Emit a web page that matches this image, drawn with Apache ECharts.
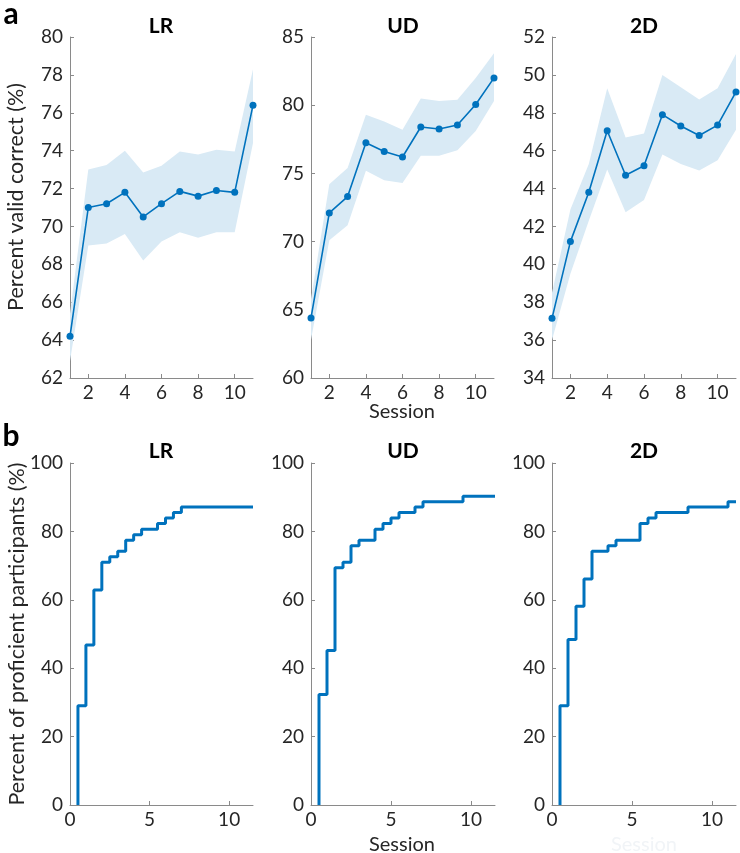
<!DOCTYPE html>
<html>
<head>
  <meta charset="utf-8">
  <title>Session performance</title>
  <script src="https://cdn.jsdelivr.net/npm/echarts@6.0.0/dist/echarts.min.js"></script>
  <style>
    html, body { margin: 0; padding: 0; background: #fff; }
    #main { width: 740px; height: 853px; }
  </style>
</head>
<body>
  <div id="main"></div>
  <script>
  // sessions 1..11, panel a
  var sessions = ['1', '2', '3', '4', '5', '6', '7', '8', '9', '10', '11'];

  var lrMean  = [64.2, 71.0, 71.2, 71.8, 70.5, 71.2, 71.85, 71.6, 71.9, 71.8, 76.4];
  var lrUpper = [65.4, 73.0, 73.25, 74.0, 72.85, 73.2, 73.95, 73.8, 74.05, 73.95, 78.3];
  var lrLower = [62.9, 69.0, 69.1, 69.6, 68.2, 69.2, 69.7, 69.4, 69.7, 69.7, 74.4];

  var udMean  = [64.4, 72.1, 73.3, 77.25, 76.6, 76.2, 78.4, 78.25, 78.55, 80.05, 82.0];
  var udUpper = [65.8, 74.2, 75.4, 79.3, 78.8, 78.2, 80.5, 80.3, 80.4, 82.0, 83.8];
  var udLower = [62.8, 70.1, 71.2, 75.2, 74.5, 74.3, 76.3, 76.3, 76.7, 78.1, 80.3];

  var twoMean  = [37.15, 41.2, 43.8, 47.05, 44.7, 45.2, 47.9, 47.3, 46.8, 47.35, 49.1];
  var twoUpper = [38.5, 42.9, 45.3, 49.3, 46.7, 46.9, 50.0, 49.35, 48.7, 49.3, 51.1];
  var twoLower = [36.0, 39.5, 42.3, 45.0, 42.75, 43.4, 45.8, 45.3, 44.95, 45.5, 47.1];

  // panel b: session where the step happens, and the new percentage
  var lrStepX = [0.5, 1, 1.5, 2, 2.5, 3, 3.5, 4, 4.5, 5.5, 6, 6.5, 7];
  var lrStepY = [29.0, 46.8, 62.9, 71.0, 72.6, 74.2, 77.4, 79.0, 80.6, 82.3, 83.9, 85.5, 87.1];

  var udStepX = [0.5, 1, 1.5, 2, 2.5, 3, 4, 4.5, 5, 5.5, 6.5, 7, 9.5];
  var udStepY = [32.3, 45.2, 69.4, 71.0, 75.8, 77.4, 80.6, 82.3, 83.9, 85.5, 87.1, 88.7, 90.3];

  var twoStepX = [0.5, 1, 1.5, 2, 2.5, 3.5, 4, 5.5, 6, 6.5, 8.5, 11];
  var twoStepY = [29.0, 48.4, 58.1, 66.1, 74.2, 75.8, 77.4, 82.3, 83.9, 85.5, 87.1, 88.7];

  var bottomTicks = [0, 5, 10];
  var stepEnd = 11.5;

  var blue = '#0072BD';
  var band = '#d9eaf5';
  var axisGrey = '#8a8a8a';
  var textCol = '#262626';
  var font = 'Lato';

  var chart = echarts.init(document.getElementById('main'), null, {renderer: 'canvas'});

  var grids = [
    {left: 70,  top: 37,  width: 183, height: 341},
    {left: 311, top: 37,  width: 183, height: 341},
    {left: 552, top: 37,  width: 184, height: 341},
    {left: 70,  top: 463, width: 183, height: 342},
    {left: 311, top: 463, width: 184, height: 342},
    {left: 552, top: 463, width: 184, height: 342}
  ];

  // only even sessions get a tick and a label
  function evenOnly(idx) { return idx % 2 === 1; }

  function catAx(i) {
    return {
      type: 'category', gridIndex: i, data: sessions, boundaryGap: false,
      axisLine: {lineStyle: {color: axisGrey, width: 1}},
      axisTick: {inside: true, length: 4, interval: evenOnly, lineStyle: {color: axisGrey}},
      axisLabel: {interval: evenOnly, color: textCol, fontSize: 19, fontFamily: font, margin: 5},
      splitLine: {show: false}
    };
  }
  function xAx(i, min, max, ticks) {
    return {
      type: 'value', gridIndex: i, min: min, max: max,
      axisLine: {lineStyle: {color: axisGrey, width: 1}},
      axisTick: {inside: true, length: 4, customValues: ticks, lineStyle: {color: axisGrey}},
      axisLabel: {customValues: ticks, color: textCol, fontSize: 19, fontFamily: font, margin: 5},
      splitLine: {show: false}
    };
  }
  function yAx(i, min, max, step) {
    return {
      type: 'value', gridIndex: i, min: min, max: max, interval: step,
      axisLine: {show: true, lineStyle: {color: axisGrey, width: 1}},
      axisTick: {show: true, inside: true, length: 4, lineStyle: {color: axisGrey}},
      axisLabel: {color: textCol, fontSize: 19, fontFamily: font, margin: 7},
      splitLine: {show: false}
    };
  }

  function pairs(xs, ys) {
    return xs.map(function (x, k) { return [x, ys[k]]; });
  }

  function meanPanel(i, mean, lower, upper) {
    var width = upper.map(function (u, k) { return +(u - lower[k]).toFixed(3); });
    var stack = 'band' + i;
    return [
      {
        type: 'line', xAxisIndex: i, yAxisIndex: i, stack: stack, silent: true,
        data: lower, symbol: 'none', lineStyle: {opacity: 0}, z: 1
      },
      {
        type: 'line', xAxisIndex: i, yAxisIndex: i, stack: stack, silent: true,
        data: width, symbol: 'none', lineStyle: {opacity: 0},
        areaStyle: {color: band, opacity: 1}, z: 1
      },
      {
        type: 'line', xAxisIndex: i, yAxisIndex: i, data: mean,
        symbol: 'circle', symbolSize: 7, itemStyle: {color: blue},
        lineStyle: {color: blue, width: 1.6}, z: 3
      }
    ];
  }

  function stepPanel(i, xs, ys) {
    var data = [[xs[0], 0]].concat(pairs(xs, ys));
    data.push([stepEnd, ys[ys.length - 1]]);
    return {
      type: 'line', xAxisIndex: i, yAxisIndex: i, step: 'end', data: data,
      symbol: 'none', lineStyle: {color: blue, width: 3}, z: 3
    };
  }

  function txt(x, y, s, size, weight, rot, color) {
    return {
      type: 'text', x: x, y: y, rotation: rot || 0,
      style: {
        text: s, fontSize: size, fontWeight: weight || 'normal', fontFamily: font,
        fill: color || textCol, align: 'center', verticalAlign: 'middle'
      }
    };
  }

  var series = []
    .concat(meanPanel(0, lrMean, lrLower, lrUpper))
    .concat(meanPanel(1, udMean, udLower, udUpper))
    .concat(meanPanel(2, twoMean, twoLower, twoUpper));
  series.push(stepPanel(3, lrStepX, lrStepY));
  series.push(stepPanel(4, udStepX, udStepY));
  series.push(stepPanel(5, twoStepX, twoStepY));

  var option = {
    animation: false,
    backgroundColor: '#fff',
    grid: grids,
    xAxis: [
      catAx(0), catAx(1), catAx(2),
      xAx(3, 0, stepEnd, bottomTicks), xAx(4, 0, stepEnd, bottomTicks), xAx(5, 0, stepEnd, bottomTicks)
    ],
    yAxis: [
      yAx(0, 62, 80, 2), yAx(1, 60, 85, 5), yAx(2, 34, 52, 2),
      yAx(3, 0, 100, 20), yAx(4, 0, 100, 20), yAx(5, 0, 100, 20)
    ],
    series: series,
    graphic: [
      txt(11, 14, 'a', 30, 'bold', 0, '#000'),
      txt(11, 436, 'b', 30, 'bold', 0, '#000'),
      txt(161, 26, 'LR', 21, 'bold', 0, '#000'),
      txt(403, 26, 'UD', 21, 'bold', 0, '#000'),
      txt(644, 26, '2D', 21, 'bold', 0, '#000'),
      txt(161, 451, 'LR', 21, 'bold', 0, '#000'),
      txt(403, 451, 'UD', 21, 'bold', 0, '#000'),
      txt(644, 451, '2D', 21, 'bold', 0, '#000'),
      txt(16, 197, 'Percent valid correct (%)', 21.5, 'normal', Math.PI / 2),
      txt(17, 634, 'Percent of proficient participants (%)', 21.5, 'normal', Math.PI / 2),
      txt(402, 412, 'Session', 20),
      txt(402, 845, 'Session', 20),
      txt(644, 845, 'Session', 20, 'normal', 0, '#f1f4f7')
    ]
  };

  chart.setOption(option);
  </script>
</body>
</html>
